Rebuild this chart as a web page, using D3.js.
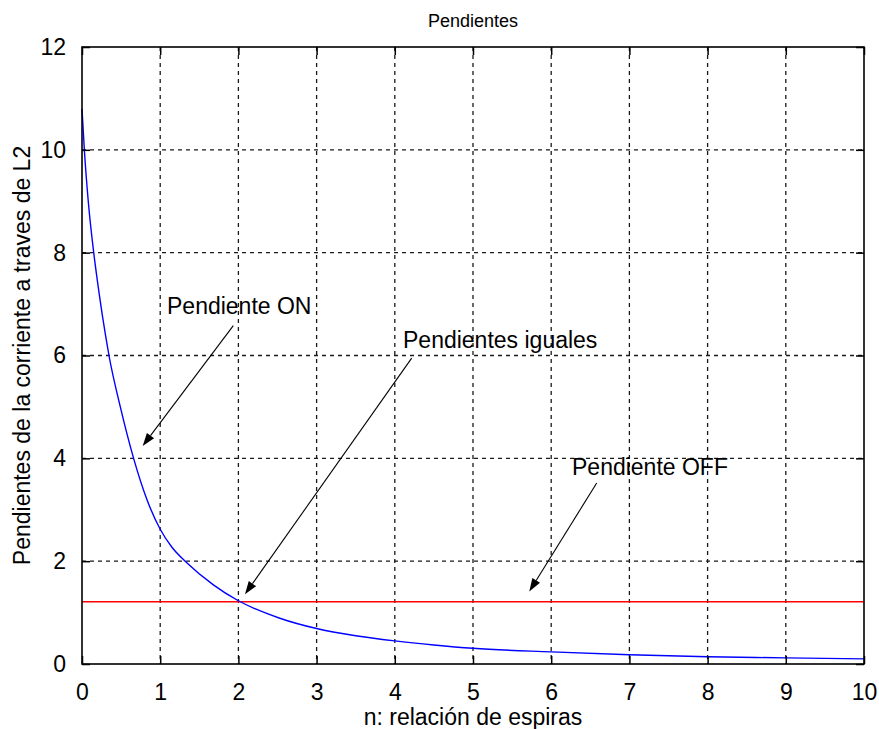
<!DOCTYPE html>
<html>
<head>
<meta charset="utf-8">
<script src="https://cdn.jsdelivr.net/npm/d3@7"></script>
<style>
  html, body { margin: 0; padding: 0; background: #ffffff; }
  svg { display: block; }
  text { font-family: "Liberation Sans", Arial, sans-serif; fill: #000; }
</style>
</head>
<body>
<script>
// Slope of the L2 current (ON phase) against turns ratio n
const nValues = [0, 0.03, 0.08, 0.15, 0.22, 0.3, 0.345, 0.49, 0.66, 0.83, 1.0, 1.15, 1.34, 1.68, 2.0, 2.53, 3, 3.5, 4, 4.5, 5, 6, 7, 8, 9, 10];
const slopeOn = [10.8, 10.0, 9.0, 8.0, 7.2, 6.4, 6.0, 5.0, 4.0, 3.2, 2.62, 2.27, 1.97, 1.54, 1.23, 0.89, 0.69, 0.55, 0.45, 0.37, 0.305, 0.235, 0.18, 0.14, 0.12, 0.1];
// Slope during the OFF phase: constant in n
const offRange = [0, 10];
const slopeOff = 1.21;

const xTicks = [0, 1, 2, 3, 4, 5, 6, 7, 8, 9, 10];
const yTicks = [0, 2, 4, 6, 8, 10, 12];

const titleText = "Pendientes";
const xLabel = "n: relación de espiras";
const yLabel = "Pendientes de la corriente a traves de L2";

// Annotations: label anchor and arrow (from -> to), in data units
const annLabels = ["Pendiente ON", "Pendientes iguales", "Pendiente OFF"];
const annTextPos = [[1.087, 6.81], [4.105, 6.15], [6.266, 3.68]];
const annArrowFrom = [[1.935, 6.58], [4.216, 5.95], [6.582, 3.52]];
const annArrowTo = [[0.776, 4.24], [2.084, 1.356], [5.72, 1.41]];

const W = 879, H = 729;
const margin = { top: 47, right: 15, bottom: 65, left: 82 };
const iw = W - margin.left - margin.right;
const ih = H - margin.top - margin.bottom;

const svg = d3.select("body").append("svg").attr("width", W).attr("height", H);
svg.append("rect").attr("width", W).attr("height", H).attr("fill", "#ffffff");

const g = svg.append("g").attr("transform", `translate(${margin.left},${margin.top})`);

const x = d3.scaleLinear().domain([0, 10]).range([0, iw]);
const y = d3.scaleLinear().domain([0, 12]).range([ih, 0]);

const fontSize = 23;

// Dashed grid
const grid = g.append("g").attr("stroke", "#1a1a1a").attr("stroke-width", 1.3).attr("stroke-dasharray", "4,4");
grid.selectAll(".gx").data(xTicks.slice(1, -1)).join("line")
  .attr("x1", d => x(d)).attr("x2", d => x(d)).attr("y1", 0).attr("y2", ih);
grid.selectAll(".gy").data(yTicks.slice(1, -1)).join("line")
  .attr("y1", d => y(d)).attr("y2", d => y(d)).attr("x1", 0).attr("x2", iw);

// Series
const lineGen = d3.line().x(d => x(d[0])).y(d => y(d[1]));
g.append("path")
  .datum(offRange.map(n => [n, slopeOff]))
  .attr("d", lineGen).attr("fill", "none").attr("stroke", "#ff0000").attr("stroke-width", 1.4);
g.append("path")
  .datum(nValues.map((n, i) => [n, slopeOn[i]]))
  .attr("d", lineGen.curve(d3.curveMonotoneX)).attr("fill", "none").attr("stroke", "#0000ff").attr("stroke-width", 1.4);

// Axes: inward ticks on all four sides, labels on bottom/left
const tickLen = 8;
const axB = d3.axisBottom(x).tickValues(xTicks).tickSize(-tickLen).tickPadding(tickLen + 12).tickFormat(d3.format("d"));
const axL = d3.axisLeft(y).tickValues(yTicks).tickSize(-tickLen).tickPadding(tickLen + 8).tickFormat(d3.format("d"));
const axT = d3.axisTop(x).tickValues(xTicks).tickSize(-tickLen).tickFormat("");
const axR = d3.axisRight(y).tickValues(yTicks).tickSize(-tickLen).tickFormat("");

function styleAxis(sel) {
  sel.select(".domain").remove();
  sel.selectAll(".tick line").attr("stroke", "#000").attr("stroke-width", 1.5);
  sel.selectAll(".tick text").attr("font-size", fontSize).attr("font-family", "Liberation Sans, Arial, sans-serif").attr("fill", "#000");
}
g.append("g").attr("transform", `translate(0,${ih})`).call(axB).call(styleAxis);
g.append("g").call(axL).call(styleAxis);
g.append("g").call(axT).call(styleAxis);
g.append("g").attr("transform", `translate(${iw},0)`).call(axR).call(styleAxis);

// Box
g.append("rect").attr("width", iw).attr("height", ih).attr("fill", "none").attr("stroke", "#000").attr("stroke-width", 1.6);

// Titles
svg.append("text").attr("x", margin.left + iw / 2).attr("y", 27).attr("text-anchor", "middle")
  .attr("font-size", 18).text(titleText);
svg.append("text").attr("x", margin.left + iw / 2).attr("y", 725).attr("text-anchor", "middle")
  .attr("font-size", fontSize).text(xLabel);
svg.append("text").attr("transform", `translate(30,${margin.top + ih / 2}) rotate(-90)`)
  .attr("text-anchor", "middle").attr("font-size", fontSize).text(yLabel);

// Annotations with arrows
const ann = g.append("g");
annLabels.forEach((label, i) => {
  ann.append("text").attr("x", x(annTextPos[i][0])).attr("y", y(annTextPos[i][1]))
    .attr("font-size", fontSize).text(label);
  const x0 = x(annArrowFrom[i][0]), y0 = y(annArrowFrom[i][1]);
  const x1 = x(annArrowTo[i][0]), y1 = y(annArrowTo[i][1]);
  const ang = Math.atan2(y1 - y0, x1 - x0);
  const headLen = 13, headHalf = 4.5;
  const bx = x1 - headLen * Math.cos(ang), by = y1 - headLen * Math.sin(ang);
  ann.append("line").attr("x1", x0).attr("y1", y0).attr("x2", bx).attr("y2", by)
    .attr("stroke", "#000").attr("stroke-width", 1.1);
  const px = -Math.sin(ang) * headHalf, py = Math.cos(ang) * headHalf;
  ann.append("polygon")
    .attr("points", [[x1, y1], [bx + px, by + py], [bx - px, by - py]].map(p => p.join(",")).join(" "))
    .attr("fill", "#000");
});
</script>
</body>
</html>
